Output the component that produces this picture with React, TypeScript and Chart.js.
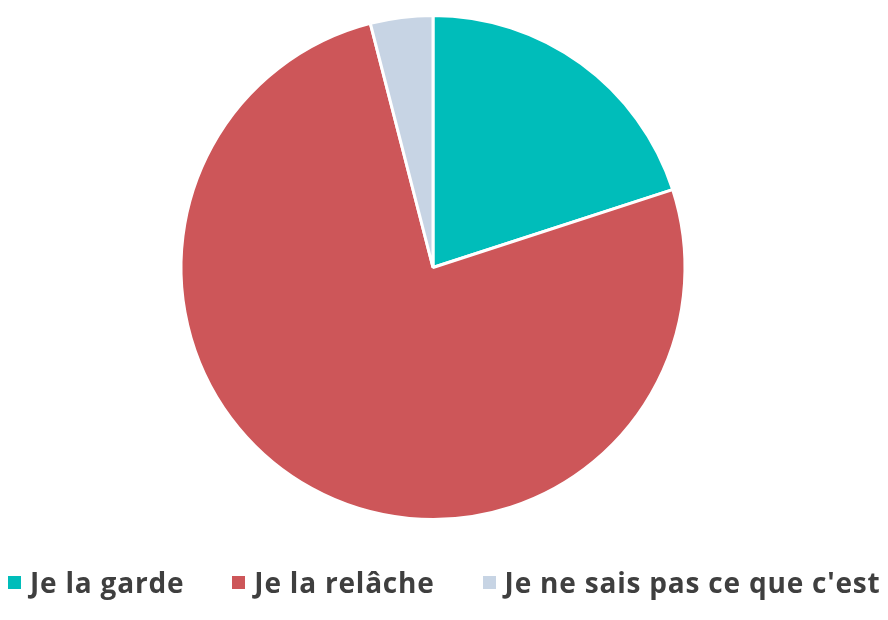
import React, { useEffect, useRef } from "react";
import { Chart, registerables } from "chart.js";

Chart.register(...registerables);

const categories = ["Je la garde", "Je la relâche", "Je ne sais pas ce que c'est"];
const values = [20, 76, 4];
const colors = ["#00BDBA", "#CD5659", "#C7D4E4"];

export default function App() {
  const ref = useRef<HTMLCanvasElement | null>(null);
  useEffect(() => {
    document.body.style.margin = "0";
    const chart = new Chart(ref.current!, {
      type: "pie",
      data: {
        labels: categories,
        datasets: [
          {
            data: values,
            backgroundColor: colors,
            borderColor: "#ffffff",
            borderWidth: 3,
          },
        ],
      },
      options: {
        animation: false,
        responsive: false,
        layout: { padding: { top: 14, left: 0, right: 22, bottom: 99 } },
        plugins: {
          tooltip: { enabled: false },
          legend: { display: false },
        },
      },
    });
    return () => chart.destroy();
  }, []);
  return (
    <div style={{ position: "relative", width: 888, height: 620, background: "#fff" }}>
      <canvas ref={ref} width={888} height={620} style={{ display: "block" }} />
      <div
        style={{
          position: "absolute",
          left: 8,
          top: 563,
          display: "flex",
          alignItems: "center",
          gap: 48,
          fontFamily: "'Open Sans', sans-serif",
          fontWeight: 700,
          fontSize: 28,
          letterSpacing: "0.8px",
          color: "#3F3F3F",
          lineHeight: "38px",
          whiteSpace: "nowrap",
        }}
      >
        {categories.map((c, i) => (
          <div key={c} style={{ display: "flex", alignItems: "center" }}>
            <span
              style={{
                display: "inline-block",
                width: 13,
                height: 13,
                background: colors[i],
                marginRight: 9,
              }}
            />
            <span>{c}</span>
          </div>
        ))}
      </div>
    </div>
  );
}
